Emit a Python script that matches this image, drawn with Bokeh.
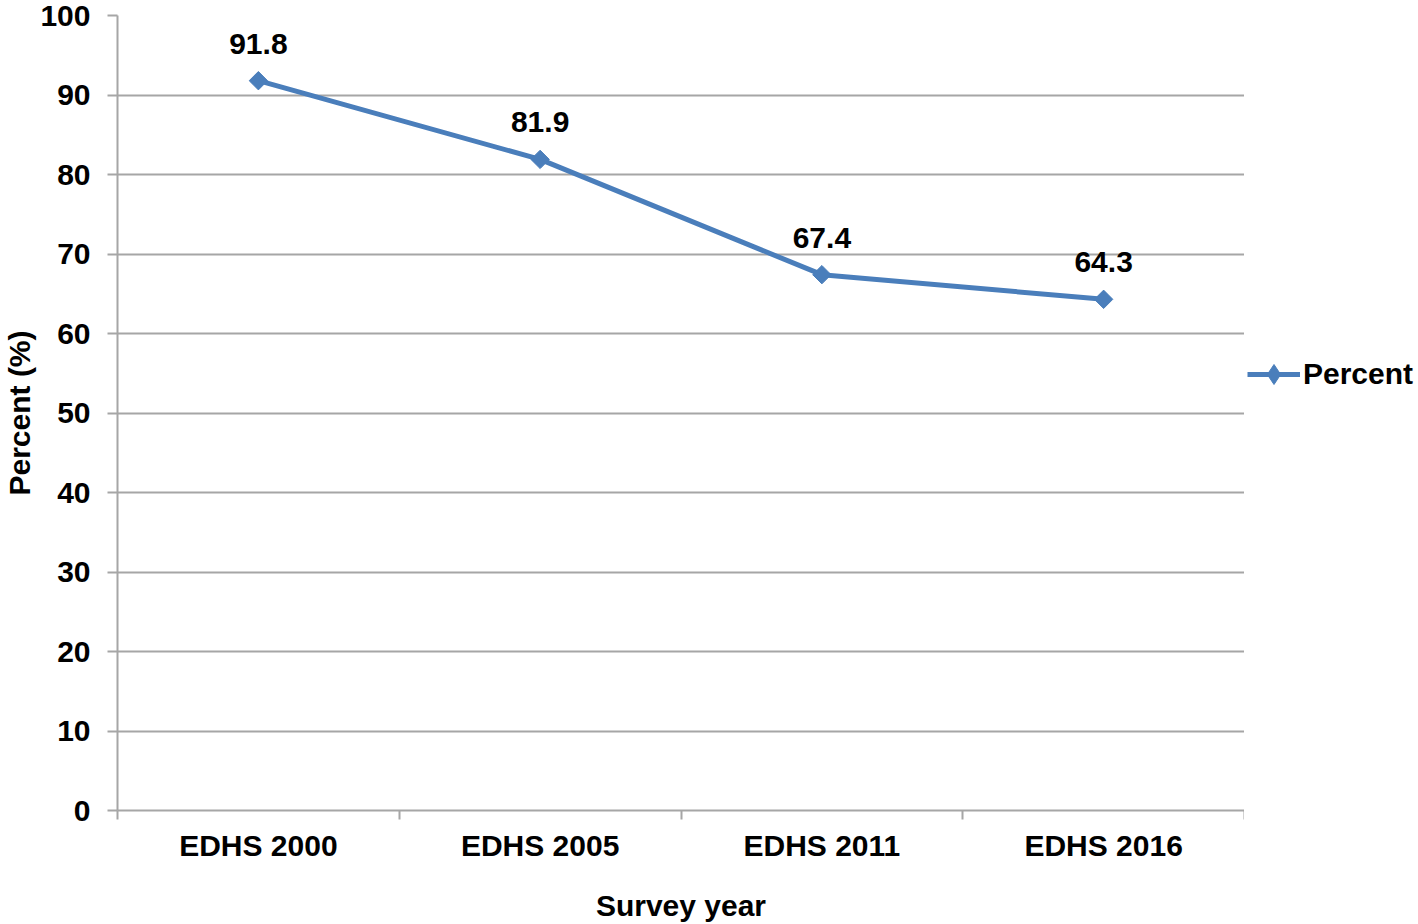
import math
from bokeh.plotting import figure
from bokeh.layouts import row
from bokeh.models import (Range1d, FixedTicker, Legend, LegendItem, ColumnDataSource)
from bokeh.core.properties import value
from bokeh.embed import file_html
from bokeh.resources import INLINE

categories = ["EDHS 2000", "EDHS 2005", "EDHS 2011", "EDHS 2016"]
percent = [91.8, 81.9, 67.4, 64.3]
y_ticks = [0, 10, 20, 30, 40, 50, 60, 70, 80, 90, 100]
series_name = "Percent"

FONT = "Liberation Sans"
BLUE = "#4a7ebb"
GREY = "#a6a6a6"
H = 924

xs = [i + 0.5 for i in range(len(categories))]
src = ColumnDataSource(dict(x=xs, y=percent, lab=[f"{v:.1f}" for v in percent]))

p = figure(width=1244, height=H, output_backend="svg",
           toolbar_location=None, x_range=Range1d(0, len(categories)),
           y_range=Range1d(0, 100),
           min_border_left=117, min_border_top=15, min_border_bottom=114,
           min_border_right=0)
p.outline_line_color = None
p.background_fill_color = "white"
p.border_fill_color = "white"

# y axis
p.yaxis.ticker = FixedTicker(ticks=y_ticks)
p.yaxis.axis_line_color = GREY
p.yaxis.axis_line_width = 2
p.yaxis.major_tick_line_color = GREY
p.yaxis.major_tick_line_width = 2
p.yaxis.major_tick_out = 10
p.yaxis.major_tick_in = 0
p.yaxis.minor_tick_line_color = None
p.yaxis.major_label_standoff = 17
p.yaxis.major_label_text_font = FONT
p.yaxis.major_label_text_font_style = "bold"
p.yaxis.major_label_text_font_size = "30px"
p.yaxis.major_label_text_color = "black"
p.yaxis.axis_label = "Percent (%)"
p.yaxis.axis_label_text_font = FONT
p.yaxis.axis_label_text_font_style = "bold"
p.yaxis.axis_label_text_font_size = "30px"
p.yaxis.axis_label_text_color = "black"
p.yaxis.axis_label_standoff = 1

# x axis: labels at category centres, tick marks between categories
p.xaxis.ticker = FixedTicker(ticks=xs, minor_ticks=list(range(len(categories) + 1)))
p.xaxis.major_label_overrides = {x: c for x, c in zip(xs, categories)}
p.xaxis.axis_line_color = GREY
p.xaxis.axis_line_width = 2
p.xaxis.major_tick_out = 0
p.xaxis.major_tick_in = 0
p.xaxis.major_tick_line_color = None
p.xaxis.minor_tick_out = 9
p.xaxis.minor_tick_in = 0
p.xaxis.minor_tick_line_color = GREY
p.xaxis.minor_tick_line_width = 2
p.xaxis.major_label_standoff = 9
p.xaxis.major_label_text_font = FONT
p.xaxis.major_label_text_font_style = "bold"
p.xaxis.major_label_text_font_size = "30px"
p.xaxis.major_label_text_color = "black"
p.xaxis.axis_label = "Survey year"
p.xaxis.axis_label_text_font = FONT
p.xaxis.axis_label_text_font_style = "bold"
p.xaxis.axis_label_text_font_size = "30px"
p.xaxis.axis_label_text_color = "black"
p.xaxis.axis_label_standoff = 24

p.xgrid.grid_line_color = None
p.ygrid.ticker = FixedTicker(ticks=y_ticks)
p.ygrid.grid_line_color = GREY
p.ygrid.grid_line_width = 2

p.line("x", "y", source=src, line_color=BLUE, line_width=5)
p.scatter("x", "y", source=src, marker="square", angle=math.pi / 4,
          size=13, fill_color=BLUE, line_color=BLUE)
p.text("x", "y", text="lab", source=src, text_font=value(FONT),
       text_font_style="bold", text_font_size="30px", text_color="black",
       text_align="center", text_baseline="alphabetic", y_offset=-37)

# legend panel at the right (its ranges keep the series itself out of view)
lg = figure(width=174, height=H, output_backend="svg", toolbar_location=None,
            x_range=Range1d(10, 11), y_range=Range1d(0, 100), min_border=0)
lg.axis.visible = False
lg.grid.visible = False
lg.outline_line_color = None
l_ln = lg.line("x", "y", source=src, line_color=BLUE, line_width=5)
l_mk = lg.scatter("x", "y", source=src, marker="diamond", size=21,
                  fill_color=BLUE, line_color=BLUE)
legend = Legend(items=[LegendItem(label=series_name, renderers=[l_ln, l_mk])],
                location=(3, 810 - 374 - 25), padding=0, margin=0, spacing=0,
                border_line_color=None, background_fill_alpha=0,
                glyph_width=53, glyph_height=50, label_standoff=3,
                label_text_font=FONT, label_text_font_style="bold",
                label_text_font_size="30px", label_text_color="black")
lg.add_layout(legend, "center")

layout = row(p, lg, spacing=0)
open("out.html", "w").write(file_html(layout, INLINE))
